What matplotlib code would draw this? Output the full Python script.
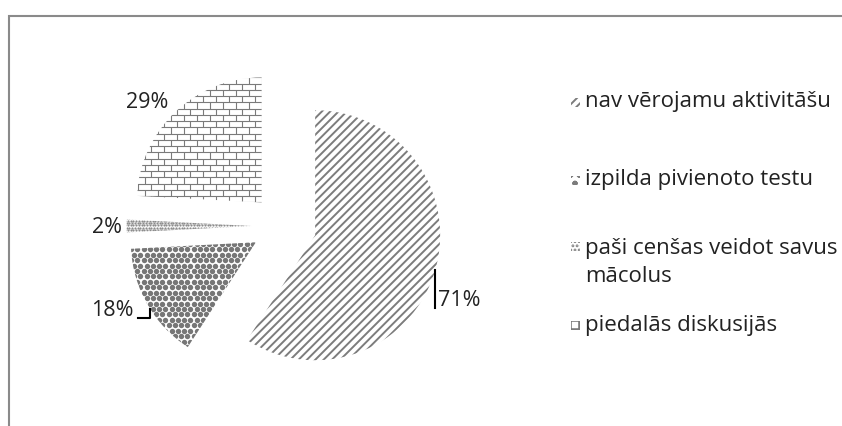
import numpy as np
import matplotlib
matplotlib.use("Agg")
import matplotlib.pyplot as plt
from matplotlib.patches import Rectangle
from matplotlib.collections import LineCollection

# activity shares, in the order the slices run clockwise from 12 o'clock
categories = ["nav vērojamu aktivitāšu", "izpilda pivienoto testu",
              "paši cenšas veidot savus\nmācolus", "piedalās diskusijās"]
values = [71, 18, 2, 29]
pct_labels = ["71%", "18%", "2%", "29%"]

GREY = "#7c7c7c"
TXT = "#222222"
W, H = 842, 426

plt.rcParams['font.family'] = ['Open Sans', 'DejaVu Sans']
plt.rcParams['hatch.linewidth'] = 1.4


def brick_fill(ax, wedge, h=0.05, bw=0.104):
    ext = wedge.get_path().get_extents()
    segs = []
    ys = np.arange(ext.y1, ext.y0 - h, -h)
    for i, y in enumerate(ys):
        segs.append([(ext.x0, y), (ext.x1, y)])
        off = (i % 2) * bw / 2
        for x in np.arange(ext.x1 - off, ext.x0 - bw, -bw):
            segs.append([(x, y), (x, y - h)])
    lc = LineCollection(segs, colors="#7a7a7a", linewidths=0.8)
    ax.add_collection(lc)
    lc.set_clip_path(wedge)


def dot_fill(ax, wedge, step, size, color):
    ext = wedge.get_path().get_extents()
    pts = []
    for i, y in enumerate(np.arange(ext.y0, ext.y1 + step, step * 0.87)):
        off = (i % 2) * step / 2
        for x in np.arange(ext.x0 - off, ext.x1 + step, step):
            pts.append((x, y))
    pts = np.array(pts)
    sc = ax.scatter(pts[:, 0], pts[:, 1], s=size, c=color, linewidths=0)
    sc.set_clip_path(wedge)


fig = plt.figure(figsize=(W / 100, H / 100), dpi=100)
ax = fig.add_axes([96.5 / W, 12.5 / H, 375 / W, 375 / H])

wedges, _ = ax.pie(values, explode=[0.26] * len(values), startangle=90,
                   counterclock=False, colors=["white"] * len(values),
                   wedgeprops=dict(linewidth=0))
ax.set_xlim(-1.5, 1.5)
ax.set_ylim(-1.5, 1.5)
ax.axis("off")

wedges[0].set_hatch("////")
wedges[0].set_edgecolor(GREY)
dot_fill(ax, wedges[1], 0.05, 15, "#767676")
dot_fill(ax, wedges[2], 0.022, 2.5, "#8c8c8c")
brick_fill(ax, wedges[3])

# percentage labels and their leader lines
label_xy = [(1.40, -0.592), (-1.376, -0.68), (-1.416, -0.016), (-1.096, 0.984)]
for (x, y), t in zip(label_xy, pct_labels):
    ax.text(x, y, t, ha="center", va="center", fontsize=15.5, color=TXT)
ax.plot([1.208, 1.208], [-0.352, -0.656], color="black", lw=1.5)
ax.plot([-1.168, -1.072, -1.072], [-0.736, -0.736, -0.664], color="black", lw=1.5)

# legend, drawn by hand so each entry keeps its own spacing
legend_hatch = ["////", "oo", "....", "++"]
legend_y = [102, 180, 246, 325]  # first text line of each entry, px from top
for lab, hatch, y in zip(categories, legend_hatch, legend_y):
    yc = y + lab.count("\n") * 33 / 2
    fig.text(585 / W, 1 - yc / H, lab, ha="left", va="center",
             fontsize=16, color=TXT, linespacing=1.4)
    fig.add_artist(Rectangle((571 / W, 1 - (y + 4.5) / H), 9 / W, 9 / H,
                             transform=fig.transFigure, facecolor="white",
                             edgecolor=GREY, hatch=hatch, lw=0))

# chart area border
fig.add_artist(Rectangle((8.5 / W, -0.05), 2.0, (H - 15.5) / H + 0.05,
                         transform=fig.transFigure, fill=False,
                         edgecolor="#8a8a8a", linewidth=1.5))

fig.savefig("out.png", dpi=100)
